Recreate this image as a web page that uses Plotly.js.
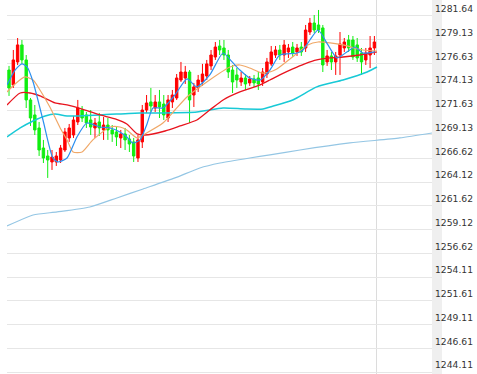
<!DOCTYPE html>
<html>
<head>
<meta charset="utf-8">
<script src="https://cdn.plot.ly/plotly-3.0.1.min.js"></script>
<style>html,body{margin:0;padding:0;background:#fff;}#chart{width:477px;height:374px;}</style>
</head>
<body>
<div id="chart"></div>
<script>
// Candle data (index = bar number)
var openP  = [1275.92,1274.35,1276.77,1278.56,1276.98,1272.77,1271.19,1269.82,1267.71,1266.87,
              1266.24,1266.24,1266.45,1267.50,1268.77,1269.08,1270.45,1271.71,1271.19,1270.66,
              1269.82,1270.45,1269.61,1270.13,1269.61,1269.40,1268.77,1269.19,1268.66,1268.35,
              1266.66,1268.35,1271.71,1272.56,1271.92,1272.56,1272.34,1270.87,1272.56,1272.98,
              1274.87,1275.08,1275.71,1273.29,1274.03,1274.66,1275.29,1276.35,1277.29,1278.45,
              1278.24,1277.50,1275.92,1275.40,1274.66,1275.08,1274.56,1274.98,1275.08,1274.66,
              1275.50,1276.56,1277.50,1278.03,1277.50,1277.82,1278.34,1277.82,1278.34,1278.24,
              1279.92,1280.87,1280.66,1280.35,1276.77,1277.40,1276.77,1277.50,1278.24,1279.08,
              1279.08,1278.56,1277.71,1276.98,1277.50,1278.24];
var highP  = [1276.35,1278.03,1279.29,1279.08,1277.50,1272.98,1272.24,1270.45,1268.56,1267.50,
              1267.50,1267.29,1268.03,1269.82,1270.24,1271.08,1272.77,1272.13,1271.50,1271.71,
              1270.87,1271.40,1270.98,1270.87,1270.13,1269.92,1269.61,1269.82,1269.08,1268.77,
              1269.08,1272.24,1273.29,1274.03,1273.29,1273.82,1273.29,1273.29,1273.82,1275.50,
              1276.77,1276.35,1275.92,1274.56,1275.40,1276.56,1276.98,1278.03,1278.87,1279.08,
              1279.08,1278.03,1276.45,1276.13,1275.71,1275.50,1275.29,1275.40,1275.71,1276.13,
              1277.19,1278.45,1278.45,1278.56,1279.08,1278.66,1278.87,1278.66,1278.87,1280.66,
              1281.40,1281.71,1282.24,1280.66,1278.03,1277.82,1277.82,1279.92,1279.29,1279.61,
              1279.50,1279.29,1278.24,1278.24,1279.50,1279.50];
var lowP   = [1273.19,1274.03,1276.45,1276.56,1271.92,1270.03,1269.08,1266.87,1266.13,1264.56,
              1265.40,1265.82,1266.13,1267.29,1268.35,1268.77,1270.13,1270.45,1269.82,1269.08,
              1268.77,1268.98,1268.56,1268.56,1268.35,1267.92,1267.71,1267.50,1267.29,1266.24,
              1266.24,1267.71,1271.40,1271.50,1271.50,1270.87,1270.66,1270.45,1271.92,1272.77,
              1274.66,1274.45,1270.34,1272.03,1273.61,1274.24,1274.87,1275.92,1276.98,1277.50,
              1276.98,1275.08,1273.50,1274.03,1274.24,1273.82,1274.24,1274.14,1273.82,1274.24,
              1275.08,1276.35,1277.19,1276.98,1276.77,1277.19,1277.29,1277.40,1277.40,1277.82,
              1279.61,1279.82,1279.82,1275.71,1276.35,1275.92,1275.40,1275.40,1277.82,1277.82,
              1276.98,1276.77,1275.40,1276.45,1276.13,1277.50];
var closeP = [1274.03,1276.98,1278.56,1276.98,1272.77,1270.87,1269.61,1267.50,1266.66,1266.45,
              1266.76,1266.87,1267.71,1269.40,1269.82,1270.66,1271.92,1270.87,1270.34,1269.92,
              1270.34,1269.82,1270.13,1269.61,1269.19,1268.87,1269.19,1268.56,1268.13,1266.87,
              1268.56,1271.71,1272.45,1272.13,1272.56,1272.03,1271.19,1272.77,1273.29,1275.08,
              1275.71,1275.71,1272.77,1274.14,1274.87,1275.50,1276.56,1277.50,1278.34,1278.03,
              1277.50,1275.71,1274.66,1274.87,1275.08,1274.45,1274.98,1274.56,1274.45,1275.71,
              1276.77,1277.82,1278.03,1277.50,1278.56,1278.24,1277.71,1278.24,1277.82,1280.13,
              1280.87,1280.13,1280.13,1276.45,1277.40,1276.77,1277.40,1278.66,1278.87,1278.24,
              1277.29,1277.19,1276.77,1277.71,1278.24,1278.87];

// Moving-average lines (x in bar units)
var ma5X  = [-0.47,1.4,3.0,4.2,5.6,7.9,10.2,11.4,13.5,15.8,18.1,21.2,23.5,25.8,27.4,28.8,30.5,32.1,33.5,35.8,38.6,41.4,43.7,46.7,49.8,51.9,53.7,56.0,58.4,60.7,63.0,67.0,68.4,70.0,71.9,74.2,76.3,78.6,80.5,82.3,85.1];
var ma5Y  = [1274.35,1275.92,1276.56,1276.24,1274.66,1270.66,1266.66,1266.24,1266.66,1268.87,1270.34,1269.92,1269.82,1269.40,1268.87,1268.24,1268.56,1270.24,1271.92,1271.92,1273.29,1274.98,1274.14,1275.40,1277.71,1276.77,1275.92,1275.08,1274.87,1275.92,1277.50,1277.71,1278.03,1279.08,1280.13,1278.56,1277.19,1277.82,1278.34,1277.71,1277.82];
var ma10X = [-0.47,1.4,3.7,5.6,7.2,9.5,11.9,13.5,14.9,17.0,19.5,23.5,25.8,27.4,29.8,31.6,35.8,38.6,41.4,46.0,51.4,53.7,56.0,58.8,60.7,62.3,66.5,69.5,71.9,74.7,77.7,82.3,85.6];
var ma10Y = [1273.61,1274.45,1275.19,1274.87,1273.82,1272.03,1269.82,1268.56,1267.29,1267.29,1268.56,1269.92,1269.92,1269.61,1268.77,1269.19,1270.34,1271.71,1273.08,1274.66,1276.24,1276.45,1276.13,1275.61,1275.71,1276.03,1277.50,1278.56,1278.87,1278.77,1278.56,1278.03,1277.92];
var ma20X = [-0.47,2.6,4.9,7.2,10.7,13.5,17.7,21.2,24.7,27.4,29.8,31.6,36.3,39.8,43.7,46.7,49.8,53.7,58.4,60.7,63.0,66.0,68.8,71.6,74.7,77.7,81.6,85.6];
var ma20Y = [1272.24,1273.50,1273.50,1273.19,1272.45,1272.24,1271.71,1271.19,1270.77,1270.24,1269.19,1269.08,1269.50,1270.03,1270.66,1271.71,1272.77,1273.61,1274.35,1274.87,1275.40,1276.03,1276.56,1276.98,1277.19,1277.29,1277.50,1277.82];
var ma60X = [-0.47,2.6,5.6,8.4,10.7,13.5,21.2,30.5,35.8,43.7,49.8,54.9,59.1,60.7,66.0,71.6,77.7,83.3,85.6];
var ma60Y = [1268.87,1269.82,1270.55,1271.08,1271.29,1271.08,1271.19,1271.40,1271.40,1271.50,1271.92,1271.82,1271.82,1272.03,1272.77,1274.14,1274.87,1275.71,1276.24];
var ma200X = [-0.47,5.6,11.2,18.8,25.1,31.2,38.6,44.4,49.1,56.0,60.7,67.7,79.3,90.9,98.4];
var ma200Y = [1259.50,1260.66,1260.98,1261.50,1262.45,1263.40,1264.56,1265.61,1266.13,1266.66,1266.98,1267.50,1268.24,1268.77,1269.29];

// Price-axis tick labels
var tickVals = [1281.64,1279.13,1276.63,1274.13,1271.63,1269.13,1266.62,1264.12,1261.62,1259.12,1256.62,1254.11,1251.61,1249.11,1246.61,1244.11];
var tickText = ["1281.64","1279.13","1276.63","1274.13","1271.63","1269.13","1266.62","1264.12","1261.62","1259.12","1256.62","1254.11","1251.61","1249.11","1246.61","1244.11"];
var nowLine = [85.5];

var idx = openP.map(function(_, i){ return i; });

function maTrace(x, y, color, w){
  return {type:'scatter', mode:'lines', x:x, y:y, line:{color:color, width:w, shape:'spline', smoothing:0.6}, hoverinfo:'skip'};
}

var traces = [
  maTrace(ma200X, ma200Y, '#94c6e4', 1.2),
  maTrace(ma60X, ma60Y, '#18c9d6', 1.5),
  {
    type:'candlestick', x:idx, open:openP, high:highP, low:lowP, close:closeP,
    increasing:{line:{color:'#ff0000', width:1}, fillcolor:'#ff0000'},
    decreasing:{line:{color:'#11ee11', width:1}, fillcolor:'#11ee11'},
    whiskerwidth:0, hoverinfo:'skip'
  },
  maTrace(ma20X, ma20Y, '#e8141e', 1.3),
  maTrace(ma10X, ma10Y, '#f0a868', 1.2),
  maTrace(ma5X, ma5Y, '#2b8ff0', 1.2)
];

var layout = {
  width:477, height:374,
  margin:{l:7, r:45, t:0, b:0, pad:0},
  paper_bgcolor:'#ffffff', plot_bgcolor:'#ffffff',
  showlegend:false,
  boxgap:0.2,
  xaxis:{range:[-0.47, 98.4], rangeslider:{visible:false}, showticklabels:false, ticks:'',
         tickmode:'array', tickvals:nowLine, showgrid:true, gridcolor:'#dcdcdc', gridwidth:1,
         zeroline:false, showline:false, fixedrange:true},
  yaxis:{side:'right', range:[1243.92, 1283.29], tickmode:'array', tickvals:tickVals, ticktext:tickText,
         showgrid:true, gridcolor:'#e6e6e6', gridwidth:1, zeroline:false, showline:false, ticks:'',
         ticklabelshift:-7, ticklabelstandoff:2,
         tickfont:{family:'DejaVu Sans, Verdana, sans-serif', size:9.2, color:'#333333'}, fixedrange:true},
  shapes:[{type:'rect', xref:'paper', yref:'paper', x0:1, x1:1.0235, y0:0, y1:1, fillcolor:'#efefef', line:{width:0}, layer:'below'}]
};

Plotly.newPlot('chart', traces, layout, {displayModeBar:false, staticPlot:true});
</script>
</body>
</html>
